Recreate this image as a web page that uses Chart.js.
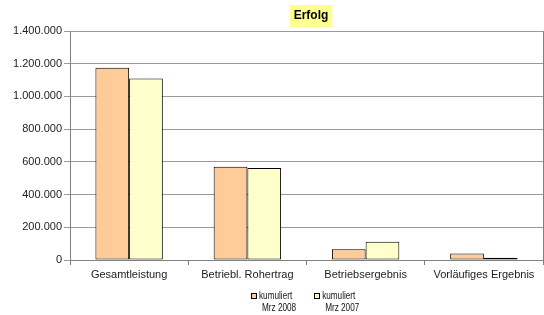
<!DOCTYPE html>
<html>
<head>
<meta charset="utf-8">
<script src="https://cdn.jsdelivr.net/npm/chart.js@4/dist/chart.umd.min.js"></script>
<style>
  html, body { margin: 0; padding: 0; background: #fff; }
  #wrap { width: 544px; height: 315px; }
</style>
</head>
<body>
<div id="wrap"><canvas id="chart"></canvas></div>
<script>
// Erfolg — Vergleich kumuliert
const CATEGORIES = ['Gesamtleistung', 'Betriebl. Rohertrag', 'Betriebsergebnis', 'Vorläufiges Ergebnis'];
const SERIES_NAMES = ['kumuliert\nMrz 2008', 'kumuliert\nMrz 2007'];
const VALUES_2008 = [1176000, 570000, 65000, 40000];
const VALUES_2007 = [1110000, 562000, 111000, 14000];
const Y_MAX = 1400000;
const Y_STEP = 200000;

const ORANGE = '#ffcc99';
const YELLOW = '#ffffcc';
const AXIS = '#808080';
const FONT = "'Liberation Sans', Arial, sans-serif";

Chart.defaults.font.family = FONT;
Chart.defaults.font.size = 11;
Chart.defaults.color = '#222';

function fmt(v) {
  return String(Math.round(v)).replace(/\B(?=(\d{3})+(?!\d))/g, '.');
}

// Title with highlighted background, right frame line and the small legend
const decor = {
  id: 'decor',
  afterDraw(chart) {
    const ctx = chart.ctx;
    const a = chart.chartArea;
    ctx.save();
    ctx.strokeStyle = AXIS;
    ctx.lineWidth = 1;
    ctx.beginPath();
    ctx.moveTo(Math.round(a.right) + 0.5, a.top);
    ctx.lineTo(Math.round(a.right) + 0.5, a.bottom);
    ctx.stroke();

    // title
    const cx = 311, cy = 16;
    ctx.font = 'bold 12px ' + FONT;
    const w = ctx.measureText('Erfolg').width;
    ctx.fillStyle = '#ffff90';
    ctx.fillRect(cx - w / 2 - 4, 5, w + 8, 22);
    ctx.fillStyle = '#000';
    ctx.textAlign = 'center';
    ctx.textBaseline = 'middle';
    ctx.fillText('Erfolg', cx, cy);

    // legend (text condensed like the original)
    const sx = 0.78;
    ctx.font = '10.5px ' + FONT;
    ctx.textAlign = 'left';
    const box = 6, gap = 2, between = 21;
    const items = chart.data.datasets.map(ds => {
      const lines = ds.label.split('\n');
      const tw = Math.max(...lines.map(l => ctx.measureText(l).width)) * sx;
      return { lines, tw, color: ds.backgroundColor };
    });
    let x = 251;
    const y0 = 296;
    items.forEach(it => {
      ctx.fillStyle = it.color;
      ctx.fillRect(x, y0 - 3, box, box);
      ctx.strokeStyle = '#000';
      ctx.strokeRect(Math.round(x) + 0.5, y0 - 2.5, box - 1, box - 1);
      ctx.fillStyle = '#111';
      it.lines.forEach((l, i) => {
        ctx.save();
        ctx.translate(x + box + gap + (i ? 3 : 0), y0 + i * 12);
        ctx.scale(sx, 1);
        ctx.fillText(l, 0, 0);
        ctx.restore();
      });
      x += box + gap + it.tw + between;
    });
    ctx.restore();
  }
};

new Chart(document.getElementById('chart'), {
  type: 'bar',
  data: {
    labels: CATEGORIES,
    datasets: [
      { label: SERIES_NAMES[0], data: VALUES_2008, backgroundColor: ORANGE, borderColor: '#000', borderWidth: 1, borderSkipped: false },
      { label: SERIES_NAMES[1], data: VALUES_2007, backgroundColor: YELLOW, borderColor: '#000', borderWidth: 1, borderSkipped: false },
    ],
  },
  options: {
    responsive: true,
    maintainAspectRatio: false,
    animation: false,
    layout: { padding: { top: 31, right: 1, left: 0, bottom: 30 } },
    datasets: { bar: { categoryPercentage: 0.57, barPercentage: 1.0 } },
    plugins: {
      title: { display: false },
      tooltip: { enabled: false },
      legend: { display: false },
    },
    scales: {
      x: {
        afterFit(scale) { scale.height = 25; },
        grid: { display: true, drawOnChartArea: false, offset: true, color: AXIS, tickLength: 5 },
        border: { color: AXIS },
        ticks: { color: '#222', maxRotation: 0, autoSkip: false, padding: 3 },
      },
      y: {
        min: 0,
        max: Y_MAX,
        afterFit(scale) { scale.width = 70; },
        grid: { color: '#9a9a9a', tickLength: 6 },
        border: { color: AXIS },
        ticks: { stepSize: Y_STEP, color: '#222', padding: 2, callback: v => fmt(v) },
      },
    },
  },
  plugins: [decor],
});
</script>
</body>
</html>
